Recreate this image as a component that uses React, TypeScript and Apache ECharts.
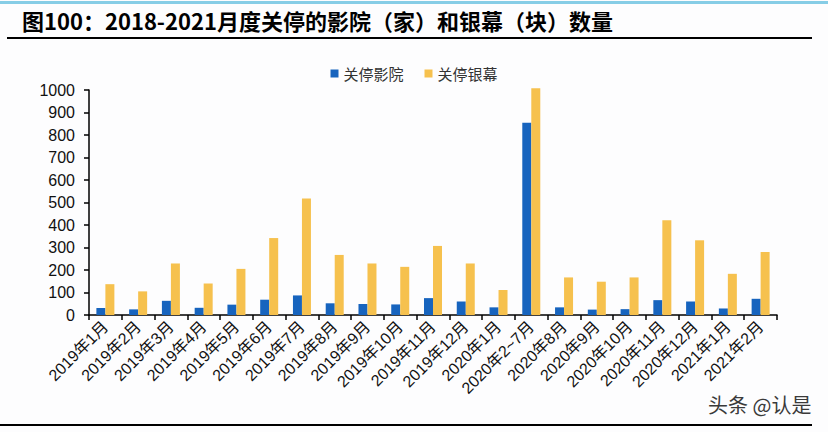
import React, { useEffect, useRef } from "react";
import * as echarts from "echarts";

// Monthly counts of closed cinemas (家) and screens (块)
const categories = [
  "2019年1月", "2019年2月", "2019年3月", "2019年4月", "2019年5月", "2019年6月",
  "2019年7月", "2019年8月", "2019年9月", "2019年10月", "2019年11月", "2019年12月",
  "2020年1月", "2020年2~7月", "2020年8月", "2020年9月", "2020年10月", "2020年11月",
  "2020年12月", "2021年1月", "2021年2月",
];
const closedCinemas = [31, 25, 63, 32, 46, 68, 87, 52, 49, 47, 75, 60, 34, 855, 34, 24, 26, 66, 60, 29, 72];
const closedScreens = [137, 105, 229, 140, 205, 342, 518, 267, 229, 214, 307, 229, 111, 1008, 167, 148, 167, 421, 332, 183, 280];
const seriesNames = ["关停影院", "关停银幕"];
const titleText = "图100：2018-2021月度关停的影院（家）和银幕（块）数量";
const watermark = "头条 @认是";

const FONT = '"Liberation Sans", Arial, "Noto Sans CJK SC", sans-serif';
const CJK = '"Noto Sans CJK SC", "Liberation Sans", sans-serif';

export default function App() {
  const ref = useRef<HTMLDivElement>(null);

  useEffect(() => {
    if (!ref.current) return;
    const chart = echarts.init(ref.current, null, { renderer: "svg" });
    chart.setOption({
      animation: false,
      backgroundColor: "#fdfdfe",
      textStyle: { fontFamily: FONT },
      graphic: [
        { type: "rect", shape: { x: 0, y: 1, width: 828, height: 3 }, style: { fill: "#86cde6" } },
        {
          type: "text", x: 22, y: 20,
          style: { text: titleText, font: `bold 22px ${CJK}`, fill: "#000", textVerticalAlign: "middle" },
        },
        { type: "line", shape: { x1: 7, y1: 38, x2: 812, y2: 38 }, style: { stroke: "#000", lineWidth: 2 } },
        { type: "line", shape: { x1: 0, y1: 425, x2: 812, y2: 425 }, style: { stroke: "#000", lineWidth: 2 } },
        {
          type: "text", x: 708, y: 404,
          style: { text: watermark, font: `20px ${CJK}`, fill: "#3a3a3a", textVerticalAlign: "middle" },
        },
      ],
      legend: {
        top: 61, left: "center",
        itemWidth: 8, itemHeight: 8, itemGap: 21,
        icon: "rect",
        textStyle: { fontSize: 15, color: "#333", fontFamily: CJK },
        data: seriesNames,
      },
      grid: { left: 89, right: 51, top: 90, bottom: 117, containLabel: false },
      xAxis: {
        type: "category",
        data: categories,
        boundaryGap: true,
        axisLine: { lineStyle: { color: "#000", width: 1.5 } },
        axisTick: { show: true, inside: false, length: 5, lineStyle: { color: "#000", width: 1.5 } },
        axisLabel: { rotate: 45, fontSize: 16, color: "#111", margin: 9, interval: 0, fontFamily: FONT },
      },
      yAxis: {
        type: "value",
        min: 0, max: 1000, interval: 100,
        axisLine: { show: true, lineStyle: { color: "#000", width: 1.5 } },
        axisTick: { show: true, inside: false, length: 5, lineStyle: { color: "#000", width: 1.5 } },
        splitLine: { show: false },
        axisLabel: {
          fontSize: 16, color: "#111", margin: 14, fontFamily: FONT,
          formatter: (v: number) => String(v),
        },
      },
      series: [
        {
          name: seriesNames[0], type: "bar", data: closedCinemas,
          barWidth: 9, barGap: "0%", clip: false,
          itemStyle: { color: "#1764be" },
        },
        {
          name: seriesNames[1], type: "bar", data: closedScreens,
          barWidth: 9, barGap: "0%", clip: false,
          itemStyle: { color: "#f6c14e" },
        },
      ],
    });
    return () => chart.dispose();
  }, []);

  return (
    <div
      ref={ref}
      style={{ position: "fixed", left: 0, top: 0, width: 828, height: 432 }}
    />
  );
}
